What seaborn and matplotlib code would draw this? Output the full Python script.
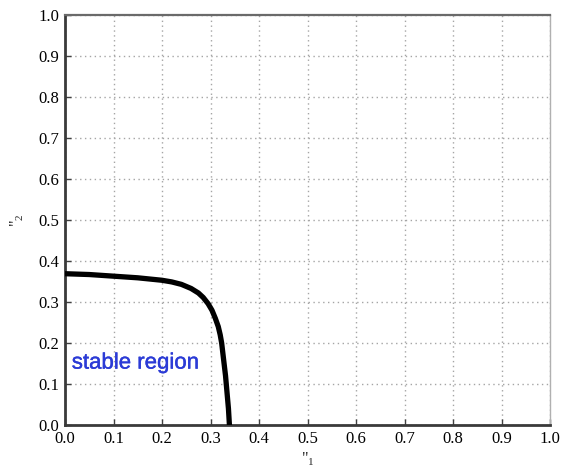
import matplotlib
matplotlib.use("Agg")
import matplotlib.pyplot as plt
import matplotlib.patheffects as pe
import seaborn as sns
import pandas as pd

# boundary curve (mu1, mu2)
mu1 = [0.0, 0.05, 0.10, 0.15, 0.20, 0.22, 0.24, 0.26, 0.275, 0.285, 0.295, 0.303,
       0.310, 0.316, 0.320, 0.323, 0.327, 0.331, 0.334, 0.337, 0.339]
mu2 = [0.369, 0.367, 0.363, 0.359, 0.353, 0.349, 0.343, 0.333, 0.322, 0.311, 0.296, 0.280,
       0.260, 0.240, 0.220, 0.200, 0.160, 0.120, 0.080, 0.040, 0.0]
ticks = [0.0, 0.1, 0.2, 0.3, 0.4, 0.5, 0.6, 0.7, 0.8, 0.9, 1.0]
tick_labels = ["0.0", "0.1", "0.2", "0.3", "0.4", "0.5", "0.6", "0.7", "0.8", "0.9", "1.0"]
annotation = "stable region"

sns.set_theme(style="white")
plt.rcParams["font.family"] = ["Liberation Serif", "DejaVu Serif"]
plt.rcParams["mathtext.fontset"] = "custom"
plt.rcParams["mathtext.rm"] = "Liberation Serif"
plt.rcParams["mathtext.default"] = "regular"

fig = plt.figure(figsize=(5.65, 4.75), dpi=100)
ax = fig.add_axes([65/565, 1-425/475, (550-65)/565, (425-15)/475])

df = pd.DataFrame({"mu1": mu1, "mu2": mu2})
sns.lineplot(data=df, x="mu1", y="mu2", ax=ax, color="black", linewidth=3.8,
             estimator=None, sort=False, zorder=3)

ax.set_xlim(0, 1)
ax.set_ylim(0, 1)
ax.set_xticks(ticks)
ax.set_yticks(ticks)
ax.set_xticklabels(tick_labels, fontsize=12)
ax.set_yticklabels(tick_labels, fontsize=12)
ax.grid(True, linestyle=(0, (1, 2.5)), color="#a5a5a5", linewidth=1.0)
ax.tick_params(axis="both", direction="in", length=4, width=1, color="#404040",
               bottom=True, left=True, pad=4, labelcolor="black")

ax.set_xlabel('"$_1$', fontsize=11.5, labelpad=3)
ax.set_ylabel('"$_2$', fontsize=11.5, labelpad=9)

for side, col, lw in [("left", "#3a3a3a", 2.0), ("bottom", "#3a3a3a", 2.0),
                      ("top", "#6a6a6a", 1.6), ("right", "#b0b0b0", 1.0)]:
    ax.spines[side].set_visible(True)
    ax.spines[side].set_color(col)
    ax.spines[side].set_linewidth(lw)

ax.text(0.014, 0.151, annotation, fontsize=16, color="#2b3bd6",
        family=["Liberation Sans", "DejaVu Sans"], va="center", ha="left", zorder=4,
        path_effects=[pe.withStroke(linewidth=0.3, foreground="#2b3bd6")])

fig.savefig("out.png", dpi=100)
